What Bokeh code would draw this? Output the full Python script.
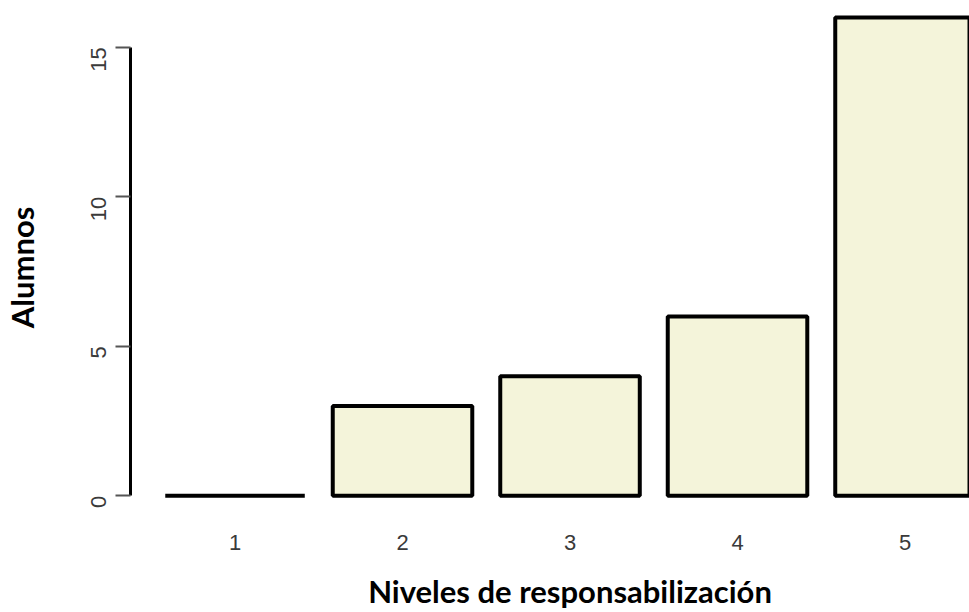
import math
from bokeh.plotting import figure
from bokeh.layouts import row, column
from bokeh.models import Range1d, FixedTicker, ColumnDataSource, Label
from bokeh.embed import file_html
from bokeh.resources import INLINE

# Data
niveles = [1, 2, 3, 4, 5]
nivel_labels = ["1", "2", "3", "4", "5"]
alumnos = [0, 3, 4, 6, 16]
y_ticks = [0, 5, 10, 15]
x_title = "Niveles de responsabilización"
y_title = "Alumnos"

src = ColumnDataSource(dict(x=niveles, top=alumnos))

xr = Range1d(0.376, 5.385)

# ---- main plot ----
main = figure(width=925, height=560, output_backend="svg", toolbar_location=None,
              x_range=xr, y_range=Range1d(-0.157, 16.565),
              min_border_left=86, min_border_right=0, min_border_top=0,
              min_border_bottom=60)
main.outline_line_color = None
main.grid.grid_line_color = None

main.vbar(x="x", top="top", bottom=0, width=0.833, source=src,
          fill_color="#F4F4DA", line_color="black", line_width=4)

ya = main.yaxis[0]
ya.ticker = FixedTicker(ticks=y_ticks)
ya.bounds = (0, 15)
ya.axis_line_width = 3
ya.axis_line_color = "black"
ya.major_tick_out = 15
ya.major_tick_in = 0
ya.major_tick_line_color = "#555555"
ya.major_tick_line_width = 2
ya.minor_tick_line_color = None
ya.major_label_orientation = math.pi / 2
ya.major_label_standoff = 17
ya.major_label_text_font = "Liberation Sans"
ya.major_label_text_font_size = "22px"
ya.major_label_text_color = "#3a3a3a"

xa = main.xaxis[0]
xa.ticker = FixedTicker(ticks=niveles)
xa.major_label_overrides = {n: s for n, s in zip(niveles, nivel_labels)}
xa.axis_line_color = None
xa.major_tick_line_color = None
xa.minor_tick_line_color = None
xa.major_tick_out = 0
xa.major_label_standoff = 34
xa.major_label_text_font = "Liberation Sans"
xa.major_label_text_font_size = "22px"
xa.major_label_text_color = "#3a3a3a"

# ---- strip below: x-axis title ----
xt = figure(width=925, height=52, output_backend="svg", toolbar_location=None,
            x_range=xr, y_range=Range1d(-3.903, -2.164),
            min_border_left=86, min_border_right=0, min_border_top=0,
            min_border_bottom=0)
xt.axis.visible = False
xt.grid.visible = False
xt.outline_line_color = None
xt.add_layout(Label(x=3, y=-3.20, text=x_title, text_align="center",
                    text_baseline="alphabetic", text_font="Lato",
                    text_font_style="bold", text_font_size="31px",
                    text_color="black"))

# ---- strip at left: y-axis title ----
yl = figure(width=44, height=612, output_backend="svg", toolbar_location=None,
            x_range=Range1d(0, 44), y_range=Range1d(-3.903, 16.565),
            min_border=0)
yl.axis.visible = False
yl.grid.visible = False
yl.outline_line_color = None
yl.add_layout(Label(x=21, y=7.64, text=y_title, angle=math.pi / 2,
                    text_align="center", text_baseline="middle",
                    text_font="Lato", text_font_style="bold",
                    text_font_size="31px", text_color="black"))

p = row(yl, column(main, xt, spacing=0), spacing=0)

open("out.html", "w").write(file_html(p, INLINE))
